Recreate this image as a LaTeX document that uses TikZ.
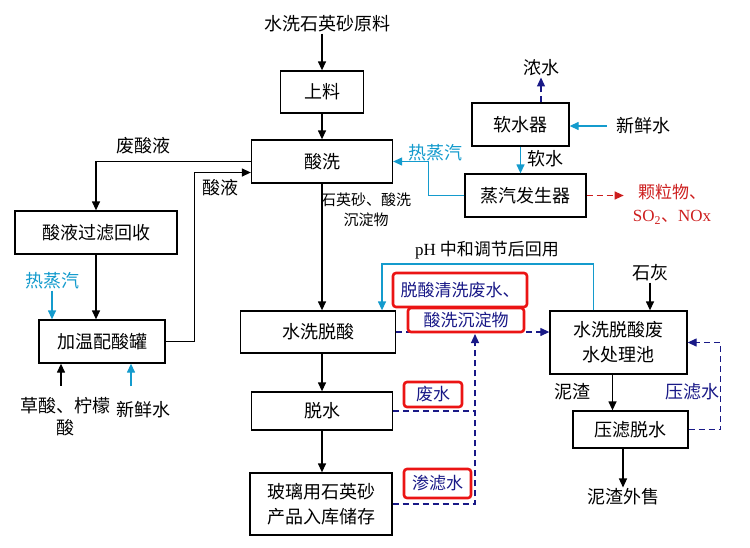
\documentclass[tikz,border=0pt]{standalone}
\usepackage{fontspec}
\setmainfont{Liberation Serif}
\newfontfamily\cjk{Noto Sans CJK SC}
\usepackage{xcolor}
\usetikzlibrary{arrows.meta,positioning,calc}
\definecolor{steamcyan}{RGB}{20,155,205}
\definecolor{wastenavy}{RGB}{25,25,135}
\definecolor{tagred}{RGB}{235,20,20}
\definecolor{emisred}{RGB}{205,30,30}

\begin{document}
\begin{tikzpicture}[x=1pt, y=-1pt,
    proc/.style={rectangle, draw, line width=1.3pt, align=center, inner sep=0pt, font=\cjk\fontsize{18}{25}\selectfont},
    lbl/.style={align=center, inner sep=1pt, font=\cjk\fontsize{18}{22}\selectfont},
    small/.style={align=center, inner sep=1pt, font=\cjk\fontsize{15}{20}\selectfont},
    tag/.style={rectangle, draw=tagred, line width=2.6pt, rounded corners=3pt, fill=white, inner sep=0pt, text=wastenavy, font=\cjk\fontsize{17}{20}\selectfont},
    flow/.style={-{Triangle[length=9pt,width=8pt]}, line width=1.3pt},
    steam/.style={flow, draw=steamcyan},
    waste/.style={flow, draw=wastenavy, line width=1.2pt, dash pattern=on 6pt off 4pt},
    wasteline/.style={draw=wastenavy, line width=1.2pt, dash pattern=on 6pt off 4pt},
    emit/.style={flow, draw=emisred, line width=1.2pt, dash pattern=on 6pt off 4pt}
]
    \useasboundingbox (0,0) rectangle (750,547);

    % Main line
    \node[lbl] (raw) at (327,24) {水洗石英砂原料};
    \node[proc, minimum width=83pt, minimum height=42pt] (feed) at (322,92) {上料};
    \node[proc, minimum width=141pt, minimum height=43pt] (pickle) at (322,161.5) {酸洗};
    \node[proc, minimum width=155pt, minimum height=42pt] (wash) at (318,332) {水洗脱酸};
    \node[proc, minimum width=141pt, minimum height=38pt] (dry) at (322,411) {脱水};
    \node[proc, minimum width=142pt, minimum height=62pt] (store) at (321,504) {玻璃用石英砂\\产品入库储存};
    \node[small] (sandlbl) at (366,210) {石英砂、酸洗\\沉淀物};

    \draw[flow] (raw.south -| feed.north) -- (feed.north);
    \draw[flow] (feed.south) -- (pickle.north);
    \draw[flow] (pickle.south) -- (pickle.south |- wash.north);
    \draw[flow] (wash.south -| dry.north) -- (dry.north);
    \draw[flow] (dry.south) -- (dry.south |- store.north);

    % Acid recovery
    \node[lbl] (wasteacid) at (143,146) {废酸液};
    \node[proc, minimum width=162pt, minimum height=43pt] (filter) at (96,232.5) {酸液过滤回收};
    \node[proc, minimum width=126pt, minimum height=43pt] (tank) at (102,341.5) {加温配酸罐};
    \node[lbl, text=steamcyan] (steamL) at (52,281) {热蒸汽};
    \node[lbl] (oxalic) at (65,417) {草酸、柠檬\\酸};
    \node[lbl] (freshL) at (143,410) {新鲜水};
    \node[lbl] (acidlbl) at (220,188) {酸液};

    \draw[flow] (pickle.west) -| (filter.north);
    \draw[flow] (filter.south) -- (filter.south |- tank.north);
    \draw[flow] (tank.east) -- ++(29,0) |- ($(pickle.west)+(0,11)$);
    \draw[steam] (steamL.south) -- (steamL.south |- tank.north);
    \draw[flow] ([shift={(-4,-11)}]oxalic.north) -- ($(tank.south -| oxalic.north)+(-4,0)$);
    \draw[steam] ([shift={(-12,-14)}]freshL.north) -- ($(tank.south -| freshL.north)+(-12,0)$);

    % Soft water and steam
    \node[proc, minimum width=97pt, minimum height=43pt] (soft) at (520.5,124.5) {软水器};
    \node[proc, minimum width=121pt, minimum height=43pt] (boiler) at (525.5,195.5) {蒸汽发生器};
    \node[lbl] (brine) at (541,68) {浓水};
    \node[lbl] (freshR) at (643,126) {新鲜水};
    \node[lbl] (softlbl) at (545,159) {软水};
    \node[lbl, text=steamcyan] (steamU) at (435,153) {热蒸汽};
    \node[lbl, text=emisred, font=\cjk\fontsize{17}{23}\selectfont] (emis) at (672,204.5) {颗粒物、\\{\rmfamily SO\textsubscript{2}}、{\rmfamily NOx}};

    \draw[waste] (soft.north -| brine.south) -- (brine.south);
    \draw[steam] ([xshift=-8pt]freshR.west) -- (freshR.west -| soft.east);
    \draw[steam] (soft.south) -- (soft.south |- boiler.north);
    \draw[steam] (boiler.west) -- ++(-36,0) |- (pickle.east);
    \draw[emit] (boiler.east) -- ($(boiler.east -| emis.west)+(-8,0)$);

    % Waste water treatment
    \node[proc, minimum width=137pt, minimum height=63pt] (pool) at (618.5,342.5) {水洗脱酸废\\水处理池};
    \node[proc, minimum width=115pt, minimum height=37pt] (press) at (630.5,429.5) {压滤脱水};
    \node[lbl] (lime) at (650,273) {石灰};
    \node[lbl] (sludge) at (572,392) {泥渣};
    \node[lbl, text=wastenavy] (presswater) at (692,392) {压滤水};
    \node[lbl] (sale) at (623,497) {泥渣外售};
    \node[lbl, font=\cjk\fontsize{17}{20}\selectfont] (phlbl) at (487,250) {{\rmfamily pH} 中和调节后回用};
    \coordinate (ret) at (382,264);
    \coordinate (join) at (475,334);

    \draw[flow] (lime.south) -- (lime.south |- pool.north);
    \draw[flow] ($(pool.south)+(-6,0)$) -- ($(pool.south |- press.north)+(-6,0)$);
    \draw[flow] (sale.north |- press.south) -- (sale.north);
    \draw[waste] (press.east) -- ++(32,0) |- (pool.east);
    \draw[steam] ($(pool.north)+(-25,0)$) |- (ret) -- (ret |- wash.north);
    \draw[waste] (wash.east) -- (wash.east -| pool.west);
    \draw[wasteline] (dry.east) -- (dry.east -| join);
    \draw[waste] (store.east) -| (join);

    % Marked streams
    \node[tag, minimum width=134pt, minimum height=34pt] (tag1) at (460,290) {脱酸清洗废水、};
    \node[tag, minimum width=116pt, minimum height=24pt] (tag2) at (466,320) {酸洗沉淀物};
    \node[tag, minimum width=58pt, minimum height=25pt] (tag3) at (433,394.5) {废水};
    \node[tag, minimum width=67pt, minimum height=29pt] (tag4) at (437.5,483.5) {渗滤水};
\end{tikzpicture}
\end{document}
